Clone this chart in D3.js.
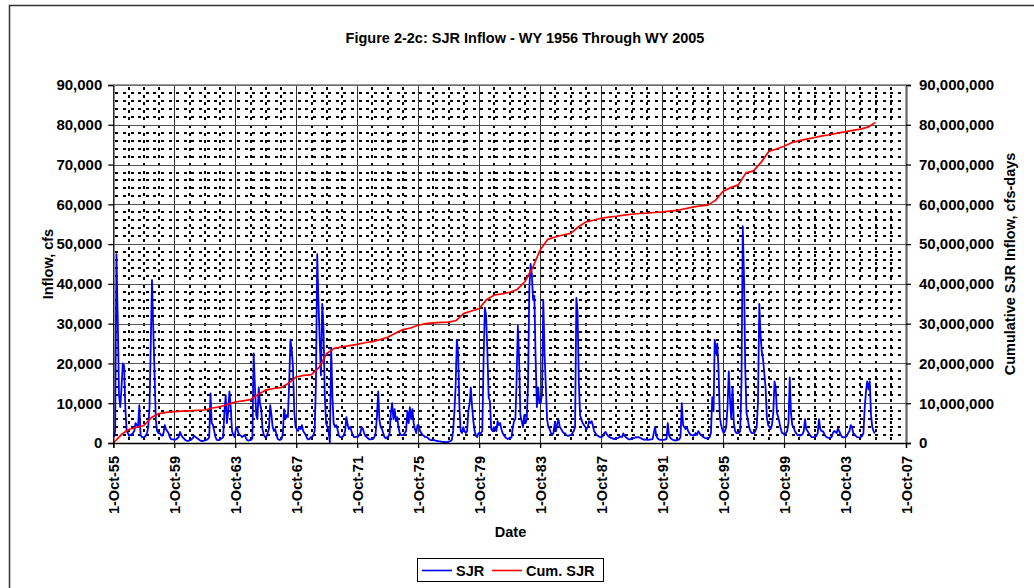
<!DOCTYPE html>
<html><head><meta charset="utf-8">
<script src="https://cdn.jsdelivr.net/npm/d3@7"></script>
<style>
body{margin:0;background:#fff}
text{font-family:"Liberation Sans",Arial,sans-serif;font-weight:bold;fill:#000}
</style>
</head><body>
<svg id="c" width="1034" height="588"></svg>
<script>
const chartTitle = "Figure 2-2c: SJR Inflow - WY 1956 Through WY 2005";
const xTitle = "Date";
const yLeftTitle = "Inflow, cfs";
const yRightTitle = "Cumulative SJR Inflow, cfs-days";
const seriesNames = ["SJR", "Cum. SJR"];

// Water years and monthly inflow (cfs), Oct..Sep of each water year
const waterYears = [1956,1957,1958,1959,1960,1961,1962,1963,1964,1965,1966,1967,1968,1969,1970,1971,1972,1973,1974,1975,
  1976,1977,1978,1979,1980,1981,1982,1983,1984,1985,1986,1987,1988,1989,1990,1991,1992,1993,1994,1995,
  1996,1997,1998,1999,2000,2001,2002,2003,2004,2005];
const monthlyInflow = [
 [1500,3000,47500,31500,12000,9000,14000,20000,19500,9000,3000,2500],
 [1800,2000,2200,2500,3000,5000,4500,4000,9500,2000,1500,1500],
 [1500,1800,2500,4000,9000,24000,41000,29000,17500,6000,3000,2500],
 [2500,2000,1800,2500,4500,3500,3000,2500,1500,1000,900,900],
 [800,900,1200,1500,2800,2000,1500,1200,800,600,500,600],
 [700,900,1200,1800,1600,1300,1100,900,600,500,500,600],
 [700,800,1000,1500,12500,5000,4500,3000,1500,800,700,700],
 [1000,1200,1500,8000,12000,5000,8000,13000,9000,3000,2000,1500],
 [3500,4000,2500,2000,1800,1500,1800,2000,1200,700,600,700],
 [800,1200,22500,14000,7000,6000,14000,10000,8500,3500,2000,1500],
 [1500,2500,3500,9500,7000,4000,3000,3500,2000,1000,800,800],
 [1000,2500,8500,6000,7000,6500,15000,26000,23500,19000,8000,4000],
 [3500,3000,4000,3500,4500,3000,2500,2000,1200,900,1000,1500],
 [1500,2000,3000,15000,47500,36000,26000,17000,35000,29000,12000,5000],
 [4000,3000,0,24000,11500,5000,4000,4500,3500,2000,1500,1500],
 [1500,2000,3000,6500,4500,3500,4000,3000,2000,1500,1500,1600],
 [1500,2000,2500,4000,3500,2500,1800,1500,1200,900,900,1000],
 [1000,1500,2500,6500,13000,6000,4000,3500,2500,1500,1200,1500],
 [1500,2500,7500,10000,6000,8500,5500,6500,4000,2500,2000,2000],
 [2000,2500,3000,8000,5000,9000,6000,8500,5000,3500,2500,4500],
 [4500,3000,2500,2000,1800,1500,1500,1300,1000,800,700,700],
 [700,600,500,500,400,400,300,300,250,200,200,250],
 [400,500,800,3000,8000,14000,26000,22500,9000,3000,2500,4000],
 [3000,2500,3000,8000,10000,14000,9000,5500,3000,1800,1500,2500],
 [2500,2500,3000,21000,34000,32000,23000,11500,10500,3500,3000,4000],
 [3500,3000,5500,4500,5000,3500,2500,2000,1500,1200,1000,1200],
 [1200,1500,4000,5500,6000,15500,29500,21000,7000,5500,4000,7000],
 [5000,6000,15000,39000,45000,42500,36000,37000,21000,9000,14000,10000],
 [10000,12500,36000,22500,14000,6000,4000,3500,2500,2000,2500,5000],
 [3000,5000,5800,4000,3500,3000,2500,2500,2000,1800,1800,2000],
 [2000,2500,3000,4000,36500,33000,15500,7000,6000,5000,4500,4000],
 [3500,4000,5500,5000,5500,4500,3000,2500,2000,1800,1600,1500],
 [1500,1800,2500,2800,2200,1800,1500,1300,1200,1100,1000,1100],
 [1200,1300,1500,1600,1500,2400,1800,1500,1200,1000,900,1000],
 [1100,1200,1300,1500,1400,1500,1300,1200,1000,900,800,900],
 [800,800,900,900,1000,2500,4000,1800,1200,900,800,800],
 [800,800,900,1000,5000,2000,1300,1000,800,700,600,700],
 [800,900,1500,10000,4500,4000,3500,4000,3000,2500,2000,2000],
 [1800,2000,2500,2000,3000,2500,2000,1800,1500,1300,1200,1200],
 [1200,1500,2500,11500,8000,26000,22500,25000,18000,6500,4500,3300],
 [2500,3000,4000,9000,18000,11000,6000,14000,5000,3000,2500,2500],
 [2500,3000,15000,54500,41000,19000,7500,6000,4000,3000,2500,2500],
 [2500,3000,4000,10500,35000,27500,23000,21000,17500,14000,6500,4500],
 [4000,3500,4500,7500,15500,14000,7500,6500,5000,3500,2500,2400],
 [2000,2500,3000,5000,16500,7500,4500,4000,3000,2500,2000,2000],
 [1800,2000,2200,3000,6000,3500,3000,2500,2000,1500,1500,1500],
 [1500,1800,2500,6000,3500,3000,3000,2500,1800,1500,1300,1300],
 [1400,1500,2500,3000,2800,2500,3700,3000,2200,1600,1400,1500],
 [1500,1800,2500,3000,4500,4000,2500,2200,1800,1500,1400,1400],
 [1500,1800,2500,9000,13000,15500,13500,15500,7000,4000,3000,2400]
];

// Cumulative inflow (million cfs-days) read every half year: 1-Oct-1955, 1-Apr-1956, 1-Oct-1956, ...
const cumStart = "1955-10-01";
const cumMillions = [0,2.0,3.4,3.9,4.4,6.4,7.4,7.7,7.9,8.0,8.1,8.2,8.3,8.8,9.1,9.7,10.3,10.6,10.9,12.2,13.3,
  13.7,13.9,15.0,16.6,17.0,17.2,19.0,22.5,23.8,24.2,24.5,24.8,25.2,25.5,26.0,26.6,27.6,28.5,28.9,29.6,
  30.0,30.2,30.3,30.4,30.8,32.6,33.2,33.8,36.1,37.2,37.5,37.9,38.6,40.6,44.0,48.5,51.2,51.8,52.3,52.7,
  54.3,55.6,56.0,56.5,56.8,57.0,57.3,57.5,57.7,57.8,57.95,58.1,58.3,58.5,58.9,59.3,59.6,59.8,61.0,63.3,
  64.2,64.9,67.9,68.4,70.6,73.3,73.9,74.6,75.5,76.0,76.4,76.8,77.2,77.5,77.9,78.2,78.6,78.9,79.4,80.6];

// Axis ticks
const xTickYears = [1955,1959,1963,1967,1971,1975,1979,1983,1987,1991,1995,1999,2003,2007];
const leftTicks = [0,10000,20000,30000,40000,50000,60000,70000,80000,90000];
const rightTicks = [0,10000000,20000000,30000000,40000000,50000000,60000000,70000000,80000000,90000000];

// ---------------- drawing ----------------
const svg = d3.select("#c");
const L = 113.3, R = 906, T = 85, B = 443;

const x = d3.scaleTime().domain([new Date(1955,9,1), new Date(2007,9,1)]).range([L, R]);
const yL = d3.scaleLinear().domain([0, 90000]).range([B, T]);
const yR = d3.scaleLinear().domain([0, 90000000]).range([B, T]);

// outer chart border
svg.append("rect").attr("x",9.5).attr("y",5.5).attr("width",1040).attr("height",600)
  .attr("fill","#fff").attr("stroke","#333").attr("stroke-width",1.5);

// plot area
svg.append("rect").attr("x",L).attr("y",T).attr("width",R-L).attr("height",B-T).attr("fill","#fff");

const grid = svg.append("g").attr("shape-rendering","crispEdges");
// minor horizontal (every 2,000)
const minorY = d3.range(2000, 90000, 2000).filter(v => v % 10000 !== 0);
grid.selectAll(".mh").data(minorY).join("line")
  .attr("x1",L+2).attr("x2",R).attr("y1",d=>Math.round(yL(d))).attr("y2",d=>Math.round(yL(d)))
  .attr("stroke","#000").attr("stroke-width",2).attr("stroke-dasharray","3,4.6");
// minor vertical (every year)
const minorX = d3.range(1956, 2007).filter(yv => (yv - 1955) % 4 !== 0).map(yv => new Date(yv,9,1));
grid.selectAll(".mv").data(minorX).join("line")
  .attr("x1",d=>Math.round(x(d))).attr("x2",d=>Math.round(x(d))).attr("y1",T+2).attr("y2",B)
  .attr("stroke","#000").attr("stroke-width",2).attr("stroke-dasharray","3,4.6");
// major horizontal
grid.selectAll(".Mh").data(leftTicks.slice(1)).join("line")
  .attr("x1",L).attr("x2",R).attr("y1",d=>Math.round(yL(d))+0.5).attr("y2",d=>Math.round(yL(d))+0.5)
  .attr("stroke","#555").attr("stroke-width",1.4);
// major vertical
const xTickDates = xTickYears.map(yv => new Date(yv,9,1));
grid.selectAll(".Mv").data(xTickDates.slice(1, -1)).join("line")
  .attr("x1",d=>Math.round(x(d))+0.5).attr("x2",d=>Math.round(x(d))+0.5).attr("y1",T).attr("y2",B)
  .attr("stroke","#333").attr("stroke-width",1);

// series data
const inflowPts = [];
waterYears.forEach((wy, i) => {
  monthlyInflow[i].forEach((v, m) => inflowPts.push({date: new Date(wy-1, 9+m, 15), value: v}));
});
const cumPts = cumMillions.map((v, i) => ({date: d3.timeMonth.offset(new Date(cumStart+"T00:00:00"), 6*i), value: v*1e6}));

svg.append("path").datum(inflowPts)
  .attr("fill","none").attr("stroke","#0000FF").attr("stroke-width",1.8).attr("stroke-linejoin","round")
  .attr("d", d3.line().x(d=>x(d.date)).y(d=>yL(d.value)));
svg.append("path").datum(cumPts)
  .attr("fill","none").attr("stroke","#FF0000").attr("stroke-width",1.7).attr("stroke-linejoin","round")
  .attr("d", d3.line().x(d=>x(d.date)).y(d=>yR(d.value)));

// axes
const fmt = d3.format(",");
const gL = svg.append("g").attr("transform",`translate(${L},0)`)
  .call(d3.axisLeft(yL).tickValues(leftTicks).tickFormat(fmt).tickSize(5).tickPadding(6));
const gR = svg.append("g").attr("transform",`translate(${R},0)`)
  .call(d3.axisRight(yR).tickValues(rightTicks).tickFormat(fmt).tickSize(5).tickPadding(8));
const gB = svg.append("g").attr("transform",`translate(0,${B})`)
  .call(d3.axisBottom(x).tickValues(xTickDates).tickFormat(d3.timeFormat("%-d-%b-%y")).tickSize(5));

[gL, gR, gB].forEach(g => {
  g.select(".domain").attr("stroke","#000").attr("stroke-width",1.3);
  g.selectAll(".tick line").attr("stroke","#000").attr("stroke-width",1.3);
  g.selectAll("text").attr("font-size","15px").attr("fill","#000");
});
gR.select(".domain").attr("stroke","#666").attr("stroke-width",2.2);
gB.selectAll("text").attr("font-size","14.5px")
  .attr("transform","rotate(-90)").attr("x",-13).attr("y",0).attr("dy","0.35em").attr("text-anchor","end");
// top border of plot area
svg.append("line").attr("x1",L).attr("x2",R).attr("y1",T).attr("y2",T).attr("stroke","#777").attr("stroke-width",1.5);

// titles
svg.append("text").attr("x",525).attr("y",43).attr("text-anchor","middle").attr("font-size","14.5px").text(chartTitle);
svg.append("text").attr("x",510.5).attr("y",537).attr("text-anchor","middle").attr("font-size","14.5px").text(xTitle);
svg.append("text").attr("transform","translate(53,264) rotate(-90)").attr("text-anchor","middle").attr("font-size","14.5px").text(yLeftTitle);
svg.append("text").attr("transform","translate(1015,264) rotate(-90)").attr("text-anchor","middle").attr("font-size","14.5px").text(yRightTitle);

// legend
const lg = svg.append("g");
lg.append("rect").attr("x",417.5).attr("y",558.5).attr("width",186).attr("height",23)
  .attr("fill","#fff").attr("stroke","#000").attr("stroke-width",1);
const legendItems = [
  {name: seriesNames[0], color:"#0000FF", x0:422, tx:456},
  {name: seriesNames[1], color:"#FF0000", x0:492, tx:526}
];
legendItems.forEach(it => {
  lg.append("line").attr("x1",it.x0).attr("x2",it.x0+30).attr("y1",570.5).attr("y2",570.5)
    .attr("stroke",it.color).attr("stroke-width",1.6);
  lg.append("text").attr("x",it.tx).attr("y",576).attr("font-size","14.5px").text(it.name);
});
</script>
</body></html>
